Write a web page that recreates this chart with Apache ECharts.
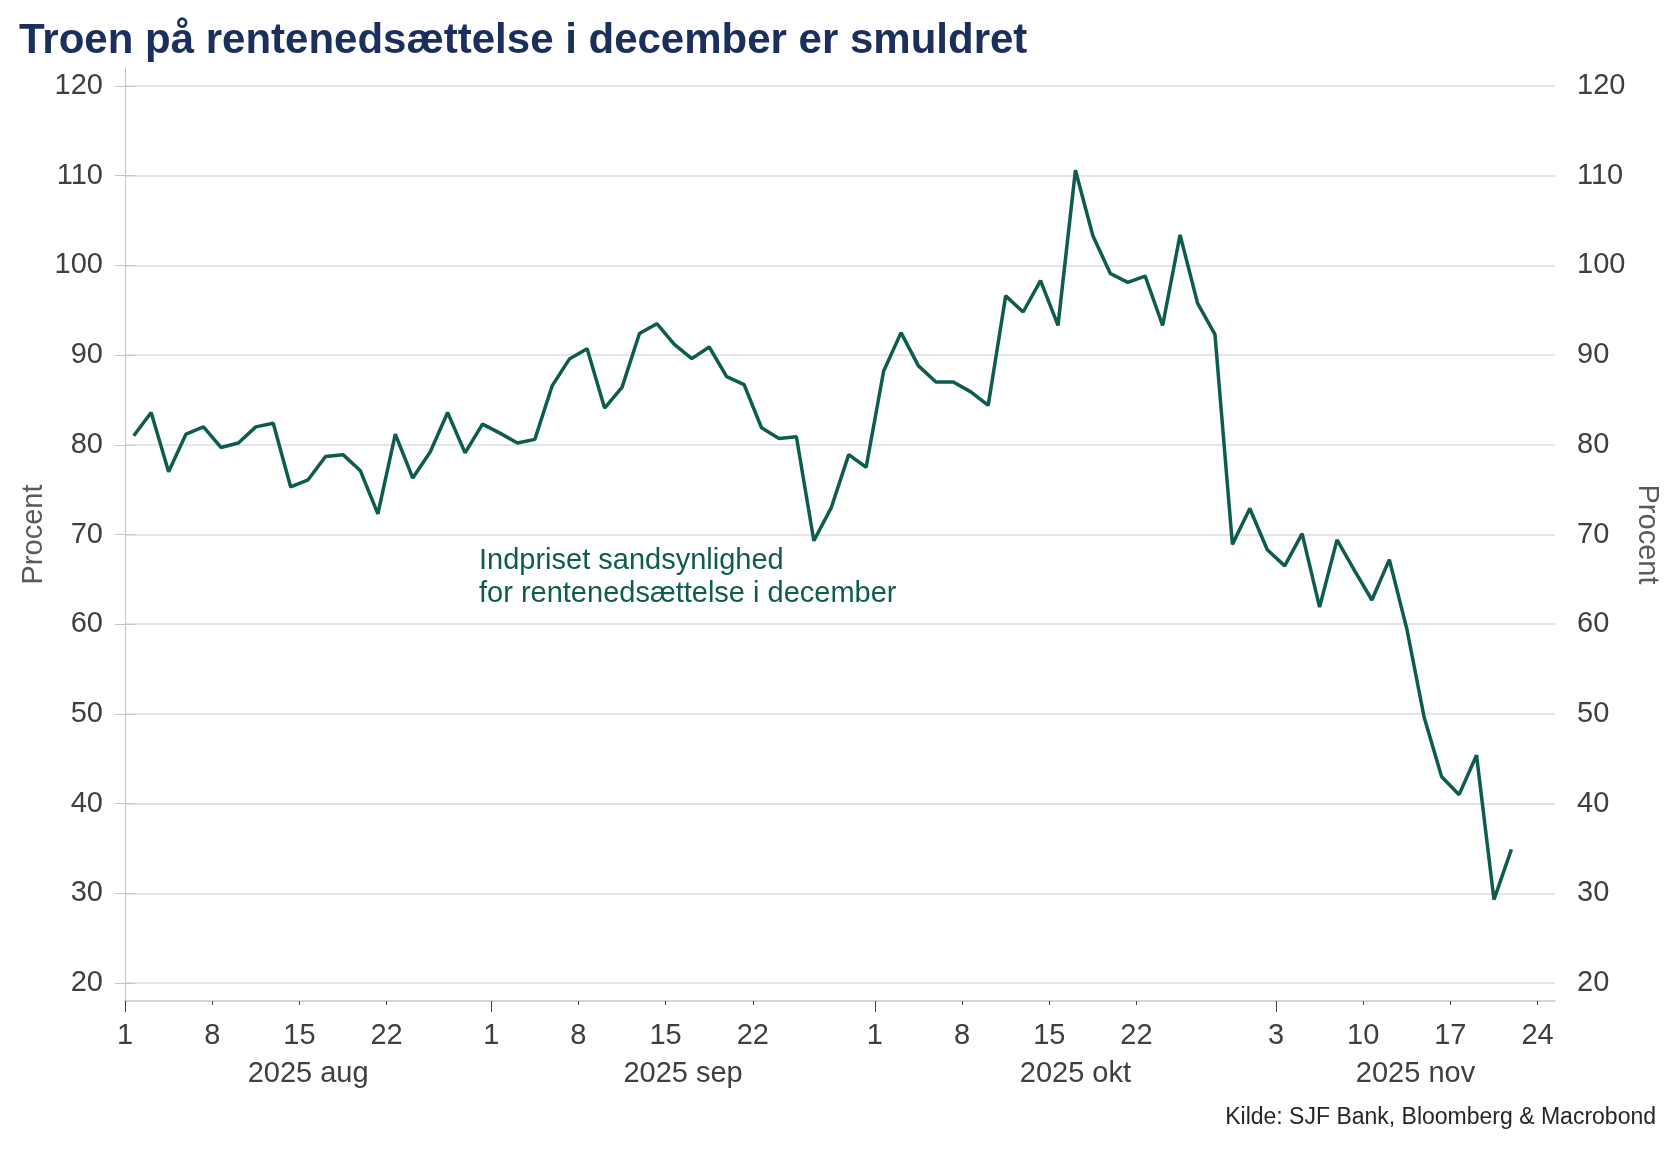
<!DOCTYPE html>
<html>
<head>
<meta charset="utf-8">
<title>Troen på rentenedsættelse i december er smuldret</title>
<script src="https://cdn.jsdelivr.net/npm/echarts@6/dist/echarts.min.js"></script>
<style>
html, body { margin: 0; padding: 0; background: #fff; }
#chart { width: 1680px; height: 1155px; }
</style>
</head>
<body>
<div id="chart"></div>
<script>
// Indpriset sandsynlighed (pct.) for rentenedsættelse i december, én værdi pr. bankdag fra 1. aug 2025
const startDate = '2025-08-01';
const axisEnd = '2025-11-24';
const probability = [
	81.0, 83.6, 77.0, 81.2, 82.0, 79.7, 80.2, 82.0, 82.4, 75.3,
	76.1, 78.7, 78.9, 77.1, 72.3, 81.2, 76.3, 79.2, 83.6, 79.1,
	82.3, 81.3, 80.2, 80.6, 86.6, 89.6, 90.7, 84.1, 86.4, 92.4,
	93.5, 91.2, 89.6, 90.9, 87.6, 86.7, 81.9, 80.7, 80.9, 69.3,
	73.0, 78.9, 77.5, 88.2, 92.5, 88.8, 87.0, 87.0, 85.9, 84.4,
	96.6, 94.8, 98.3, 93.3, 110.6, 103.3, 99.1, 98.1, 98.8, 93.3,
	103.4, 95.8, 92.3, 68.9, 72.9, 68.3, 66.5, 70.1, 61.9, 69.4,
	66.0, 62.7, 67.2, 59.5, 49.6, 43.0, 41.0, 45.4, 29.3, 34.9
];
const dayTicks = [
	'2025-08-01', '2025-08-08', '2025-08-15', '2025-08-22',
	'2025-09-01', '2025-09-08', '2025-09-15', '2025-09-22',
	'2025-10-01', '2025-10-08', '2025-10-15', '2025-10-22',
	'2025-11-03', '2025-11-10', '2025-11-17', '2025-11-24'
];
const months = ['2025-08', '2025-09', '2025-10', '2025-11'];
const monthNames = ['2025 aug', '2025 sep', '2025 okt', '2025 nov'];
const yTicks = [20, 30, 40, 50, 60, 70, 80, 90, 100, 110, 120];

const title = 'Troen på rentenedsættelse i december er smuldret';
const seriesLabel = 'Indpriset sandsynlighed\nfor rentenedsættelse i december';
const source = 'Kilde: SJF Bank, Bloomberg & Macrobond';

const FONT = '"Liberation Sans", Arial, sans-serif';
const GREEN = '#0d5c4e';
const GRID_GREY = '#dcdcdc';
const AXIS_GREY = '#c6c6c6';
const TEXT_GREY = '#3f3f3f';

// bankdage (man-fre) - aksen er uden weekender
function bankDays(from, to) {
	let out = [];
	let d = new Date(from + 'T00:00:00Z');
	const end = new Date(to + 'T00:00:00Z');
	while (d <= end) {
		const wd = d.getUTCDay();
		if (wd !== 0 && wd !== 6) out.push(d.toISOString().slice(0, 10));
		d = new Date(d.getTime() + 864e5);
	}
	return out;
}

const days = bankDays(startDate, axisEnd);
const seriesData = probability.map((v, i) => [i + 0.5, v]);
const tickIdx = dayTicks.map(d => days.indexOf(d));
const monthStart = months.map(m => days.findIndex(d => d.startsWith(m)));
const monthMid = monthStart.map((s, k) => (s + (k < monthStart.length - 1 ? monthStart[k + 1] : days.length)) / 2);

const myChart = echarts.init(document.getElementById('chart'));

const yAxisBase = {
	type: 'value',
	min: 18,
	max: 122,
	axisLine: { show: true, lineStyle: { color: AXIS_GREY, width: 1 } },
	axisTick: { show: true, length: 10, customValues: yTicks, lineStyle: { color: AXIS_GREY } },
	axisLabel: {
		customValues: yTicks,
		margin: 22,
		color: TEXT_GREY,
		fontSize: 29,
		fontFamily: FONT
	},
	name: 'Procent',
	nameLocation: 'middle',
	nameMoveOverlap: false,
	nameTextStyle: { color: '#5a5a5a', fontSize: 29, fontFamily: FONT }
};

const option = {
	animation: false,
	backgroundColor: '#ffffff',
	title: {
		text: title,
		left: 14,
		top: 15,
		textStyle: { color: '#1b2f5c', fontSize: 42, fontWeight: 'bold', fontFamily: FONT }
	},
	grid: { left: 125, right: 125, top: 68, bottom: 154, containLabel: false },
	xAxis: [{
		type: 'value',
		min: 0,
		max: days.length,
		position: 'bottom',
		axisLine: { show: true, lineStyle: { color: AXIS_GREY, width: 1.5 } },
		axisTick: { show: true, length: 4, customValues: tickIdx, lineStyle: { color: '#444' } },
		axisLabel: {
			customValues: tickIdx,
			margin: 20,
			color: TEXT_GREY,
			fontSize: 29,
			fontFamily: FONT,
			formatter: v => String(Number(days[Math.round(v)].slice(8)))
		},
		splitLine: { show: false }
	}, {
		type: 'value',
		min: 0,
		max: days.length,
		position: 'bottom',
		axisLine: { show: false },
		axisTick: { show: true, length: 11, customValues: monthStart, lineStyle: { color: '#444' } },
		axisLabel: {
			customValues: monthMid,
			margin: 58,
			color: TEXT_GREY,
			fontSize: 29,
			fontFamily: FONT,
			formatter: v => monthNames[monthMid.indexOf(v)] || ''
		},
		splitLine: { show: false }
	}],
	yAxis: [Object.assign({}, yAxisBase, {
		position: 'left',
		nameGap: 77,
		nameRotate: 90,
		splitLine: { show: true, lineStyle: { color: GRID_GREY, width: 1.5 } }
	}), Object.assign({}, yAxisBase, {
		position: 'right',
		nameGap: 77,
		nameRotate: -90,
		splitLine: { show: false }
	})],
	series: [{
		name: 'Indpriset sandsynlighed',
		type: 'line',
		xAxisIndex: 0,
		yAxisIndex: 0,
		data: seriesData,
		symbol: 'none',
		lineStyle: { color: GREEN, width: 3.5 },
		z: 5
	}],
	graphic: [{
		type: 'text',
		left: 479,
		top: 544,
		style: {
			text: seriesLabel,
			fill: GREEN,
			font: '29px ' + FONT,
			lineHeight: 33
		}
	}, {
		type: 'text',
		right: 24,
		top: 1106,
		style: {
			text: source,
			fill: '#262626',
			font: '23px ' + FONT
		}
	}]
};

myChart.setOption(option);
</script>
</body>
</html>
